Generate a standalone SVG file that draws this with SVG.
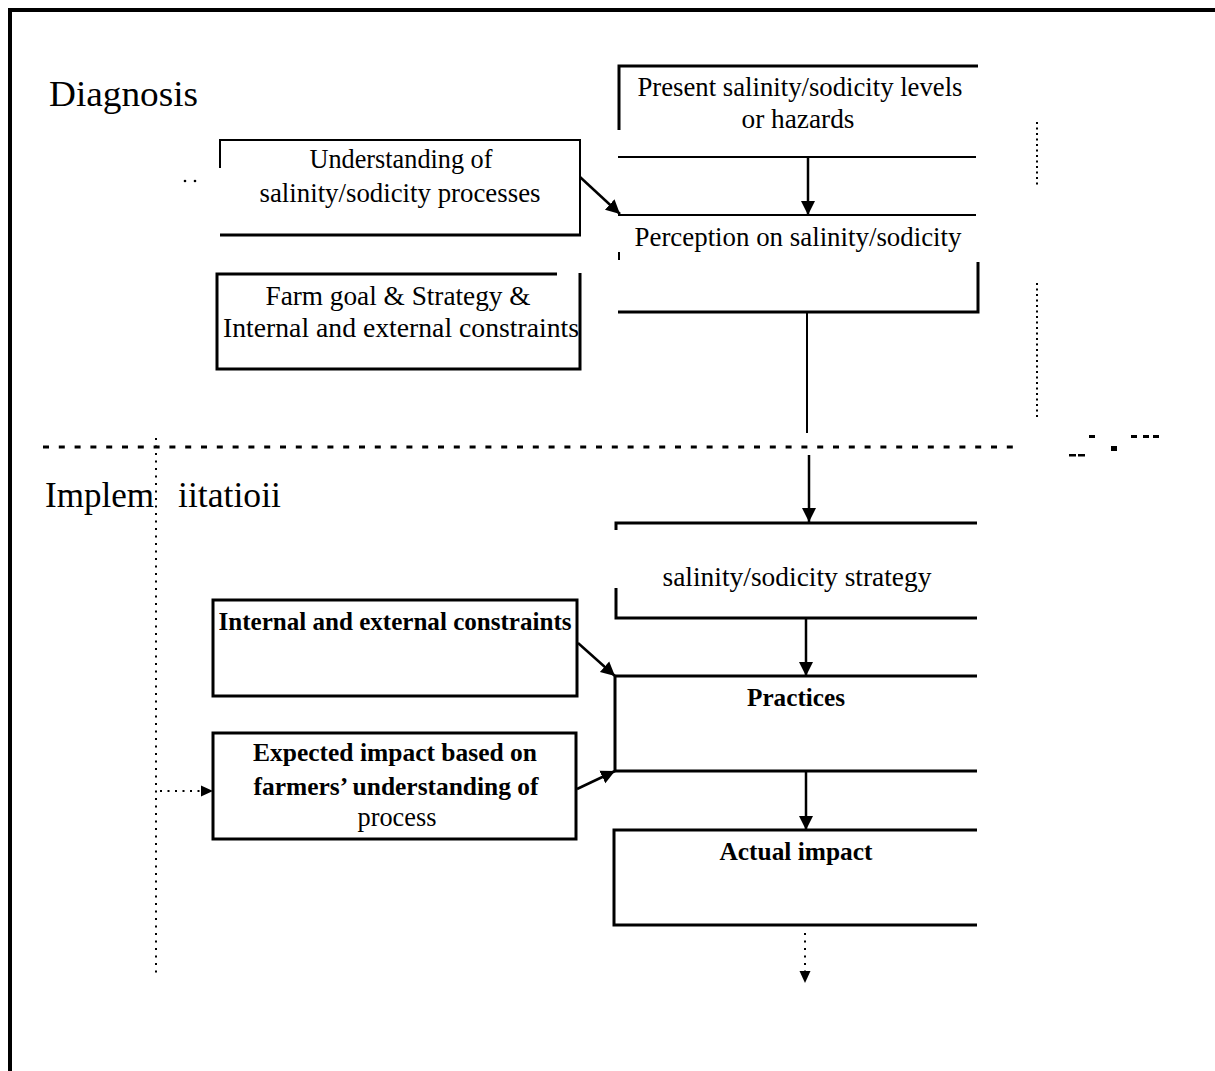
<svg xmlns="http://www.w3.org/2000/svg" width="1215" height="1071" viewBox="0 0 1215 1071">
<defs>
<marker id="ah" markerUnits="userSpaceOnUse" markerWidth="14" markerHeight="16" viewBox="0 0 14 16" refX="14" refY="8" orient="auto">
<path d="M0,1 L14,8 L0,15 Z" fill="#000"/>
</marker>
<marker id="ahs" markerUnits="userSpaceOnUse" markerWidth="12" markerHeight="12" viewBox="0 0 12 12" refX="12" refY="6" orient="auto">
<path d="M0,0.5 L12,6 L0,11.5 Z" fill="#000"/>
</marker>
<style>
.t{font-family:"Liberation Serif","Times New Roman",serif;font-size:28px;fill:#000;text-anchor:middle}
.b{font-family:"Liberation Serif","Times New Roman",serif;font-size:25px;font-weight:bold;fill:#000;text-anchor:middle}
.h{font-family:"Liberation Serif","Times New Roman",serif;font-size:36px;fill:#000}
.ln{stroke:#000;stroke-width:3;fill:none}
.thin{stroke:#000;stroke-width:2;fill:none}
.con{stroke:#000;stroke-width:2.5;fill:none}
.dot{stroke:#000;stroke-width:2;fill:none;stroke-dasharray:2 5.5}
.dotr{stroke:#000;stroke-width:2;fill:none;stroke-dasharray:2 3.5}
.dash{stroke:#000;stroke-width:3;fill:none;stroke-dasharray:6 9.8}
</style>
</defs>
<rect width="1215" height="1071" fill="#fff"/>

<g id="frame">
<line x1="10" y1="10" x2="1215" y2="10" stroke="#000" stroke-width="4"/>
<line x1="10" y1="8" x2="10" y2="1071" stroke="#000" stroke-width="4"/>
</g>

<g id="section-labels">
<text class="h" x="49" y="106" textLength="149" lengthAdjust="spacingAndGlyphs">Diagnosis</text>
<text class="h" x="45" y="507" textLength="109" lengthAdjust="spacingAndGlyphs">Implem</text>
<text class="h" x="178" y="507" textLength="103" lengthAdjust="spacingAndGlyphs">iitatioii</text>
<circle cx="185" cy="181" r="1.3" fill="#000"/>
<circle cx="195" cy="181" r="1.3" fill="#000"/>
</g>

<g id="divider">
<line class="dash" x1="43" y1="447" x2="1018" y2="447"/>
<rect x="1089" y="435" width="6" height="3" fill="#000"/>
<rect x="1111" y="446" width="6" height="5" fill="#000"/>
<rect x="1069" y="454" width="7" height="2.5" fill="#000"/>
<rect x="1078" y="454" width="7" height="2.5" fill="#000"/>
<rect x="1131" y="435" width="6" height="3" fill="#000"/>
<rect x="1143" y="435" width="6" height="3" fill="#000"/>
<rect x="1153" y="435" width="6" height="3" fill="#000"/>
</g>

<g id="side-dotted">
<line class="dotr" x1="1037" y1="122" x2="1037" y2="188"/>
<line class="dotr" x1="1037" y1="283" x2="1037" y2="418"/>
<line class="dot" x1="156" y1="438" x2="156" y2="978"/>
</g>

<g id="node-present">
<path class="ln" d="M619,130 V66 H978"/>
<line class="thin" x1="618" y1="157" x2="976" y2="157"/>
<text class="t" x="800" y="96" textLength="325" lengthAdjust="spacingAndGlyphs">Present salinity/sodicity levels</text>
<text class="t" x="798" y="128" textLength="113" lengthAdjust="spacingAndGlyphs">or hazards</text>
</g>

<g id="node-understanding">
<path class="thin" d="M220,168 V140 H580 V235"/>
<line class="ln" x1="220" y1="235" x2="581" y2="235"/>
<text class="t" x="401" y="168" textLength="183" lengthAdjust="spacingAndGlyphs">Understanding of</text>
<text class="t" x="400" y="202" textLength="281" lengthAdjust="spacingAndGlyphs">salinity/sodicity processes</text>
</g>

<g id="node-perception">
<line class="thin" x1="618" y1="215" x2="976" y2="215"/>
<line class="thin" x1="619" y1="252" x2="619" y2="260"/>
<path class="ln" d="M618,312 H978 V262"/>
<text class="t" x="798" y="246" textLength="327" lengthAdjust="spacingAndGlyphs">Perception on salinity/sodicity</text>
</g>

<g id="node-farm">
<path class="ln" d="M557,274 H217 V369 H580 V273"/>
<text class="t" x="398" y="305" textLength="265" lengthAdjust="spacingAndGlyphs">Farm goal &amp; Strategy &amp;</text>
<text class="t" x="401" y="337" textLength="356" lengthAdjust="spacingAndGlyphs">Internal and external constraints</text>
</g>

<g id="node-strategy">
<path class="ln" d="M616,530 V523 H977"/>
<path class="ln" d="M616,588 V618 H977"/>
<text class="t" x="797" y="586" textLength="269" lengthAdjust="spacingAndGlyphs">salinity/sodicity strategy</text>
</g>

<g id="node-internal">
<rect class="ln" x="213" y="600" width="364" height="96"/>
<text class="b" x="395" y="630" textLength="353" lengthAdjust="spacingAndGlyphs">Internal and external constraints</text>
</g>

<g id="node-practices">
<path class="ln" d="M977,676 H615 V771 H977"/>
<text class="b" x="796" y="706" textLength="98" lengthAdjust="spacingAndGlyphs">Practices</text>
</g>

<g id="node-expected">
<rect class="ln" x="213" y="733" width="363" height="106"/>
<text class="b" x="395" y="761" textLength="284" lengthAdjust="spacingAndGlyphs">Expected impact based on</text>
<text class="b" x="396" y="795" textLength="285" lengthAdjust="spacingAndGlyphs">farmers’ understanding of</text>
<text class="t" x="397" y="826" textLength="79" lengthAdjust="spacingAndGlyphs">process</text>
</g>

<g id="node-actual">
<path class="ln" d="M977,830 H614 V925 H977"/>
<text class="b" x="796" y="860" textLength="153" lengthAdjust="spacingAndGlyphs">Actual impact</text>
</g>

<g id="connectors">
<line class="con" x1="808" y1="157" x2="808" y2="215" marker-end="url(#ah)"/>
<line class="con" x1="580" y1="177" x2="620" y2="214" marker-end="url(#ah)"/>
<line class="thin" x1="807" y1="312" x2="807" y2="433"/>
<line class="con" x1="809" y1="455" x2="809" y2="522" marker-end="url(#ah)"/>
<line class="con" x1="806" y1="618" x2="806" y2="676" marker-end="url(#ah)"/>
<line class="con" x1="578" y1="643" x2="615" y2="676" marker-end="url(#ah)"/>
<line class="con" x1="577" y1="789" x2="615" y2="771" marker-end="url(#ah)"/>
<line class="con" x1="806" y1="771" x2="806" y2="830" marker-end="url(#ah)"/>
<line class="dot" x1="805" y1="933" x2="805" y2="983" marker-end="url(#ahs)"/>
<line class="dot" x1="160" y1="791" x2="213" y2="791" marker-end="url(#ahs)"/>
</g>
</svg>
